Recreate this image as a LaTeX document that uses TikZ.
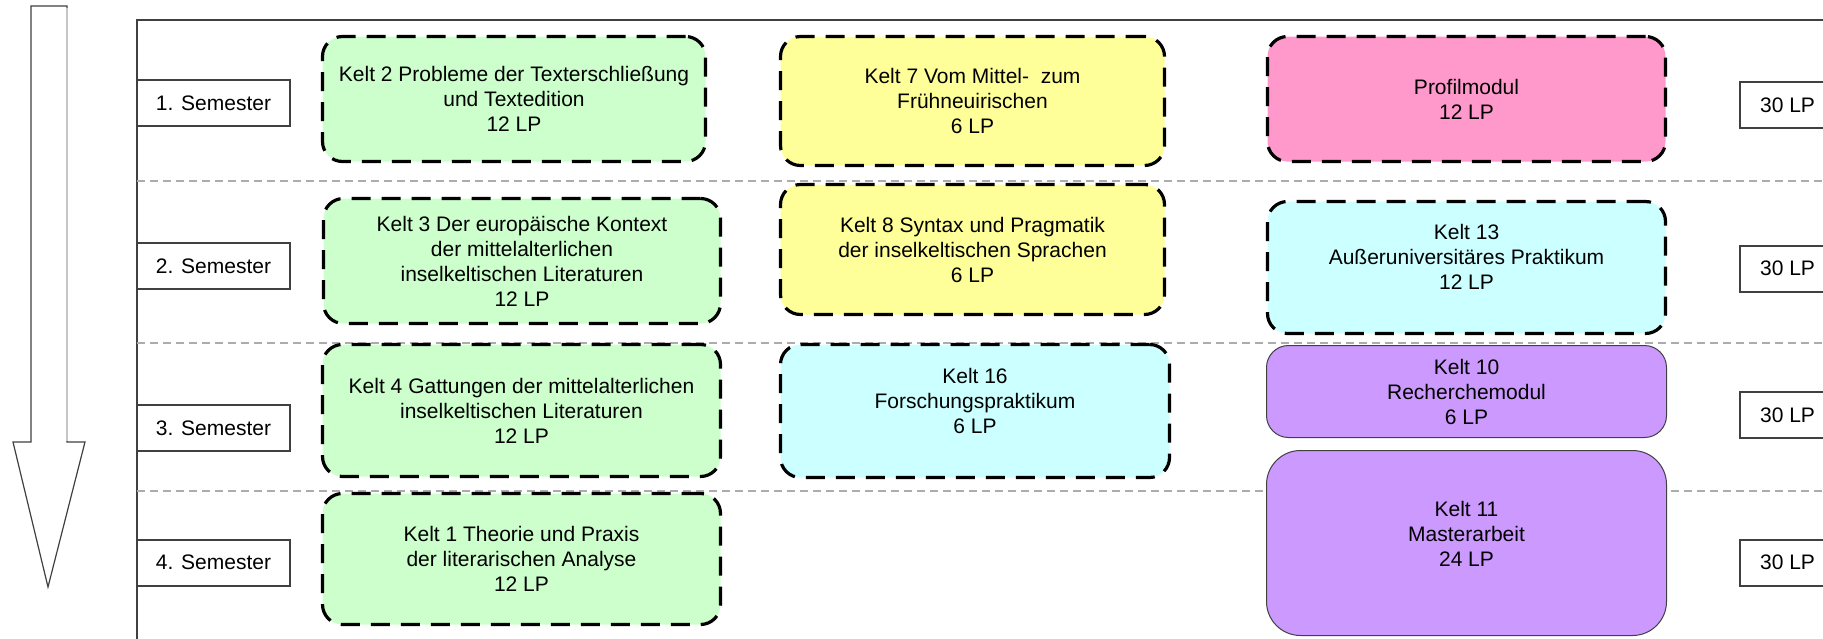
\documentclass[tikz,border=0pt]{standalone}
\usepackage{fontspec}
\setmainfont{Liberation Sans}
\definecolor{kgreen}{HTML}{CCFFCC}
\definecolor{kyellow}{HTML}{FFFF99}
\definecolor{kpink}{HTML}{FF99CC}
\definecolor{kcyan}{HTML}{CCFFFF}
\definecolor{kviolet}{HTML}{CC99FF}
\definecolor{kframe}{HTML}{404040}
\tikzset{
  modul/.style={draw=black, line width=3.2pt, dash pattern=on 19pt off 11pt,
    rounded corners=20pt, align=center, inner sep=0pt,
    font=\fontsize{21}{25}\selectfont},
  fest/.style={modul, solid, draw=black!75, line width=1pt, fill=kviolet},
  sembox/.style={draw=kframe, line width=2pt, fill=white, inner sep=0pt,
    minimum width=153pt, minimum height=46pt, font=\fontsize{21}{25}\selectfont},
  lpbox/.style={sembox, minimum width=95pt},
  trenn/.style={draw=gray!65, line width=1.5pt, dash pattern=on 8pt off 5pt},
}
\begin{document}
\begin{tikzpicture}[x=1pt, y=-1pt]
\clip (0,0) rectangle (1823,638);
\fill[white] (0,0) rectangle (1823,638);
% Pfeil
\draw[fill=white, draw=kframe, line width=1.2pt] (31,6) -- (67,6) -- (67,442) -- (85,442)
  -- (48,587) -- (13,442) -- (31,442) -- cycle;
\draw[gray!45, line width=1.5pt] (67,8) -- (67,441);
% Rahmen
\draw[kframe, line width=2pt] (137,700) -- (137,20) -- (1900,20);
\foreach \y in {181,343,491}
  \draw[trenn] (137,\y) -- (1823,\y);

\node[sembox] (s1) at (213.5,103) {1. Semester};
\node[sembox] (s2) at (213.5,266) {2. Semester};
\node[sembox] (s3) at (213.5,428) {3. Semester};
\node[sembox] (s4) at (213.5,562.5) {4. Semester};

\node[lpbox] (lp1) at (1787.5,105) {30 LP};
\node[lpbox] (lp2) at (1787.5,268.5) {30 LP};
\node[lpbox] (lp3) at (1787.5,415) {30 LP};
\node[lpbox] (lp4) at (1787.5,562.5) {30 LP};

% Module
\node[modul, fill=kgreen, minimum width=383pt, minimum height=125pt] (k2) at (514,99)
  {Kelt 2 Probleme der Texterschließung\\und Textedition\\12 LP};
\node[modul, fill=kgreen, minimum width=397pt, minimum height=125pt] (k3) at (522,261)
  {Kelt 3 Der europäische Kontext\\der mittelalterlichen\\inselkeltischen Literaturen\\12 LP};
\node[modul, fill=kgreen, minimum width=398pt, minimum height=132pt] (k4) at (521.5,410.5)
  {Kelt 4 Gattungen der mittelalterlichen\\inselkeltischen Literaturen\\12 LP};
\node[modul, fill=kgreen, minimum width=398pt, minimum height=131pt] (k1) at (521.5,559)
  {Kelt 1 Theorie und Praxis\\der literarischen Analyse\\12 LP};
\node[modul, fill=kyellow, minimum width=384pt, minimum height=129pt] (k7) at (972.5,101)
  {Kelt 7 Vom Mittel-~ zum\\Frühneuirischen\\6 LP};
\node[modul, fill=kyellow, minimum width=384pt, minimum height=130pt] (k8) at (972.5,249.5)
  {Kelt 8 Syntax und Pragmatik\\der inselkeltischen Sprachen\\6 LP};
\node[modul, fill=kcyan, minimum width=389pt, minimum height=133pt] (k16) at (975,411)
  {Kelt 16\\Forschungspraktikum\\6 LP\\[-4pt]\mbox{}};
\node[modul, fill=kpink, minimum width=398pt, minimum height=125pt] (prof) at (1466.5,99)
  {Profilmodul\\12 LP};
\node[modul, fill=kcyan, minimum width=398pt, minimum height=132pt] (k13) at (1466.5,267.5)
  {Kelt 13\\Außeruniversitäres Praktikum\\12 LP\\[-4pt]\mbox{}};
\node[fest, rounded corners=22pt, minimum width=400pt, minimum height=92pt] (k10) at (1466.5,391.5)
  {Kelt 10\\Recherchemodul\\6 LP};
\node[fest, rounded corners=34pt, minimum width=400pt, minimum height=185pt] (k11) at (1466.5,543)
  {Kelt 11\\Masterarbeit\\24 LP\\[-7pt]\mbox{}};
\end{tikzpicture}
\end{document}
